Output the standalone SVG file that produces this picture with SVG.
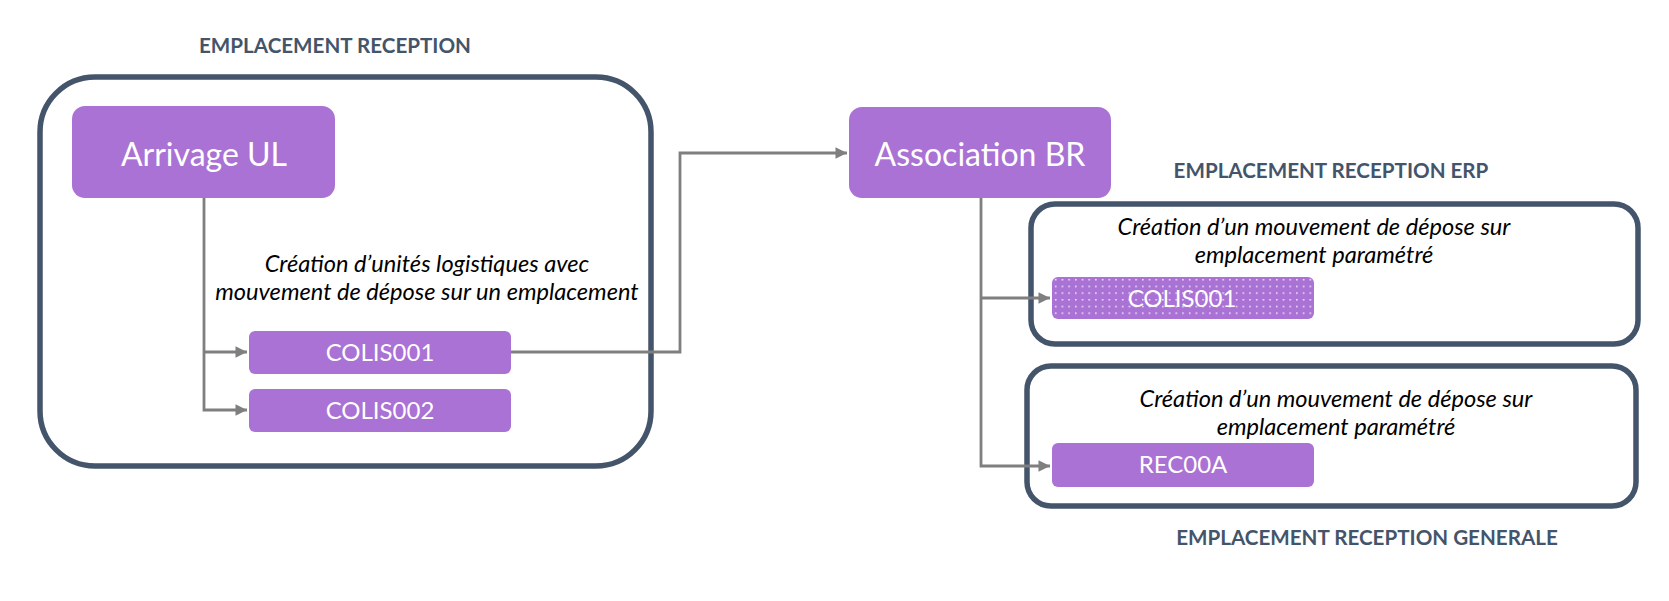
<svg xmlns="http://www.w3.org/2000/svg" width="1669" height="601" viewBox="0 0 1669 601">
<style>
.frame{fill:#fff;stroke:#44546A;stroke-width:5.5}
.box{fill:#A972D4}
.lbl{font-family:Lato,"Open Sans",sans-serif;fill:#fff;text-anchor:middle}
.title{font-family:Lato,"Open Sans",sans-serif;font-weight:bold;fill:#44546A;font-size:20.6px;text-anchor:middle}
.note{font-family:Lato,"Open Sans",sans-serif;font-style:italic;fill:#000;font-size:23.6px;text-anchor:middle}
.conn{fill:none;stroke:#7F7F7F;stroke-width:2.8}
</style>
<defs>
<marker id="arr" viewBox="0 0 10 10" refX="10" refY="5" markerWidth="4.4" markerHeight="4.1" markerUnits="strokeWidth" orient="auto">
<path d="M0,0 L10,5 L0,10 z" fill="#7F7F7F"/>
</marker>
<pattern id="dots" x="1052" y="277" width="6.7" height="6.7" patternUnits="userSpaceOnUse">
<rect width="6.7" height="6.7" fill="#A972D4"/>
<rect x="3" y="2" width="1.4" height="1.4" fill="#fff"/>
</pattern>
</defs>
<rect width="1669" height="601" fill="#fff"/>
<g id="zone-reception">
<rect class="frame" x="40" y="77" width="611" height="389" rx="55"/>
<text class="title" x="335" y="53">EMPLACEMENT RECEPTION</text>
<text class="note" x="427" y="272">Création d’unités logistiques avec</text>
<text class="note" x="427" y="300">mouvement de dépose sur un emplacement</text>
</g>
<g id="zone-erp">
<rect class="frame" x="1031" y="204" width="607" height="140" rx="24"/>
<text class="title" x="1331" y="178">EMPLACEMENT RECEPTION ERP</text>
<text class="note" x="1314" y="235">Création d’un mouvement de dépose sur</text>
<text class="note" x="1314" y="263">emplacement paramétré</text>
</g>
<g id="zone-generale">
<rect class="frame" x="1027" y="366" width="609" height="140" rx="24"/>
<text class="title" x="1367" y="545">EMPLACEMENT RECEPTION GENERALE</text>
<text class="note" x="1336" y="407">Création d’un mouvement de dépose sur</text>
<text class="note" x="1336" y="435">emplacement paramétré</text>
</g>
<g id="connectors">
<path class="conn" d="M204,198 V410 H247" marker-end="url(#arr)"/>
<path class="conn" d="M204,352 H247" marker-end="url(#arr)"/>
<path class="conn" d="M511,352 H680 V153 H847" marker-end="url(#arr)"/>
<path class="conn" d="M981,198 V466 H1050" marker-end="url(#arr)"/>
<path class="conn" d="M981,298 H1050" marker-end="url(#arr)"/>
</g>
<g id="arrivage-ul">
<rect class="box" x="72" y="106" width="263" height="92" rx="13"/>
<text class="lbl" x="204" y="166" font-size="32">Arrivage UL</text>
</g>
<g id="colis001">
<rect class="box" x="249" y="331" width="262" height="43" rx="6"/>
<text class="lbl" x="380" y="361" font-size="24">COLIS001</text>
</g>
<g id="colis002">
<rect class="box" x="249" y="389" width="262" height="43" rx="6"/>
<text class="lbl" x="380" y="419" font-size="24">COLIS002</text>
</g>
<g id="association-br">
<rect class="box" x="849" y="107" width="262" height="91" rx="13"/>
<text class="lbl" x="980" y="166" font-size="32">Association BR</text>
</g>
<g id="colis001-erp">
<rect x="1052" y="277" width="262" height="42" rx="6" fill="url(#dots)"/>
<text class="lbl" x="1182" y="307" font-size="24">COLIS001</text>
</g>
<g id="rec00a">
<rect class="box" x="1052" y="443" width="262" height="44" rx="6"/>
<text class="lbl" x="1183" y="473" font-size="24">REC00A</text>
</g>
</svg>
